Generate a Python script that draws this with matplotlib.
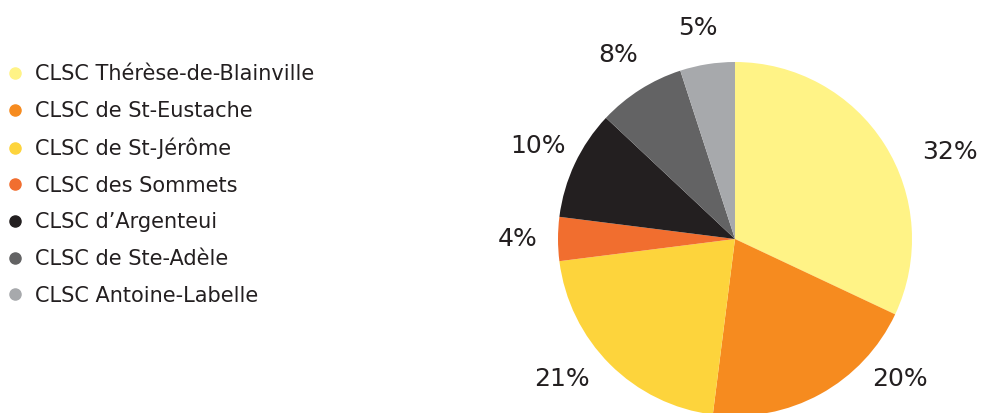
import matplotlib
matplotlib.use("Agg")
import matplotlib.pyplot as plt
from matplotlib.lines import Line2D

# data
categories = ["CLSC Thérèse-de-Blainville", "CLSC de St-Eustache", "CLSC de St-Jérôme",
              "CLSC des Sommets", "CLSC d\u2019Argenteui", "CLSC de Ste-Adèle",
              "CLSC Antoine-Labelle"]
shares = [32, 20, 21, 4, 10, 8, 5]
colors = ["#FFF386", "#F68B1F", "#FDD43C", "#F16E2F", "#231F20", "#636364", "#A7A9AC"]
pct_labels = [f"{v}%" for v in shares]

text_color = "#231F20"
plt.rcParams["font.family"] = ["DejaVu Sans"]

fig = plt.figure(figsize=(9.83, 4.13), dpi=100)

# pie axes: square 400x400 px, centred at (735, 239) px from top-left
W, H = 983, 413
cx, cy, half = 735, 239, 200
ax = fig.add_axes([(cx - half) / W, (H - cy - half) / H, 2 * half / W, 2 * half / H])
r_px = 177
lim = half / r_px

wedges, texts = ax.pie(shares, colors=colors, labels=pct_labels, startangle=90,
                       counterclock=False, radius=1, labeldistance=1.23,
                       wedgeprops=dict(linewidth=0),
                       textprops=dict(fontsize=18, color=text_color, ha="center", va="center"))
for t in texts:
    t.set_ha("center")
    t.set_va("center")
    t.set_clip_on(False)
# the lower/right labels sit off the radial line in the reference
texts[0].set_position((1.215, 0.49))
texts[1].set_position((0.93, -0.79))
texts[2].set_position((-0.98, -0.79))
texts[6].set_position((-0.21, 1.19))

ax.set_xlim(-lim, lim)
ax.set_ylim(-lim, lim)
ax.set_aspect("equal")
ax.axis("off")

handles = [Line2D([], [], marker="o", linestyle="none", markersize=8,
                  markerfacecolor=c, markeredgecolor=c) for c in colors]
fig.legend(handles, categories, loc="upper left", bbox_to_anchor=(2.5 / W, 1 - 60 / H),
           frameon=False, fontsize=15, labelcolor=text_color, handlelength=0.8,
           handletextpad=0.56, labelspacing=0.8, borderaxespad=0, borderpad=0.2)

fig.savefig("out.png", dpi=100)
